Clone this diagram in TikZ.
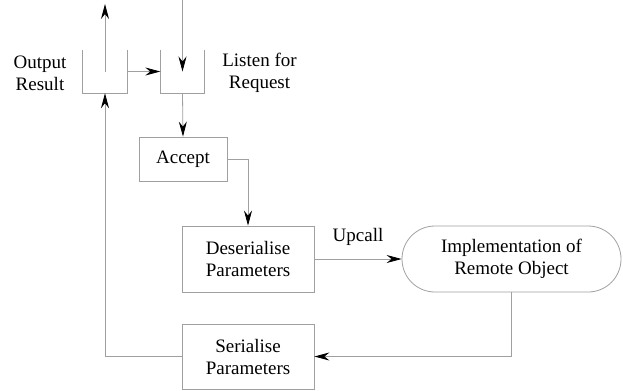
\documentclass[tikz,border=0pt]{standalone}
\usepackage{fontspec}
\setmainfont{Liberation Serif}
\usetikzlibrary{arrows.meta}
\definecolor{linegray}{HTML}{A0A0A0}
\tikzset{
  conn/.style={draw=linegray, line width=0.8bp},
  arr/.style={conn, -{Stealth[length=15bp,width=8bp,inset=5bp,color=black]}},
  box/.style={draw=linegray, line width=0.8bp, rectangle, inner sep=0pt, align=center},
  bucket/.style={rectangle, inner sep=0pt, minimum width=44bp, minimum height=43bp},
  lbl/.style={align=center, inner sep=0pt},
}
\begin{document}
\begin{tikzpicture}[x=1bp, y=-1bp, font=\fontsize{19bp}{22bp}\selectfont]
\useasboundingbox (0,0) rectangle (623,390);
% buckets
\node[bucket] (lb) at (105,71.5) {};
\node[bucket] (rb) at (182.5,71.5) {};
\draw[conn] (lb.north west) -- (lb.south west) -- (lb.south east) -- (lb.north east);
\draw[conn] (rb.north west) -- (rb.south west) -- (rb.south east) -- (rb.north east);
\node[lbl] (outlbl) at (40,73) {Output\\Result};
\node[lbl] (lislbl) at (259.5,73) {Listen for\\Request};
% boxes
\node[box, minimum width=88bp, minimum height=44bp] (acc) at (183,159) {Accept};
\node[box, minimum width=132bp, minimum height=66bp] (des) at (248,259) {Deserialise\\Parameters};
\node[box, minimum width=219bp, minimum height=66bp, rounded corners=32.9bp] (impl) at (511.5,259) {Implementation of\\Remote Object};
\node[box, minimum width=132bp, minimum height=65bp] (ser) at (248,356.5) {Serialise\\Parameters};
% free ends
\coordinate (topin) at (182.5,0);
\coordinate (topout) at (105,4);
% connectors
\draw[arr] (topin) -- (rb.center);
\draw[arr] (lb.center) -- (topout);
\draw[arr] (lb.east) -- (rb.west);
\draw[arr] (rb.south) -- (acc.north);
\draw[arr] (acc.east) -| (des.north);
\draw[arr] (des.east) -- (impl.west) node[midway, yshift=22bp] {Upcall};
\draw[arr] (impl.south) |- (ser.east);
\draw[arr] (ser.west) -| (lb.south);
\end{tikzpicture}
\end{document}
